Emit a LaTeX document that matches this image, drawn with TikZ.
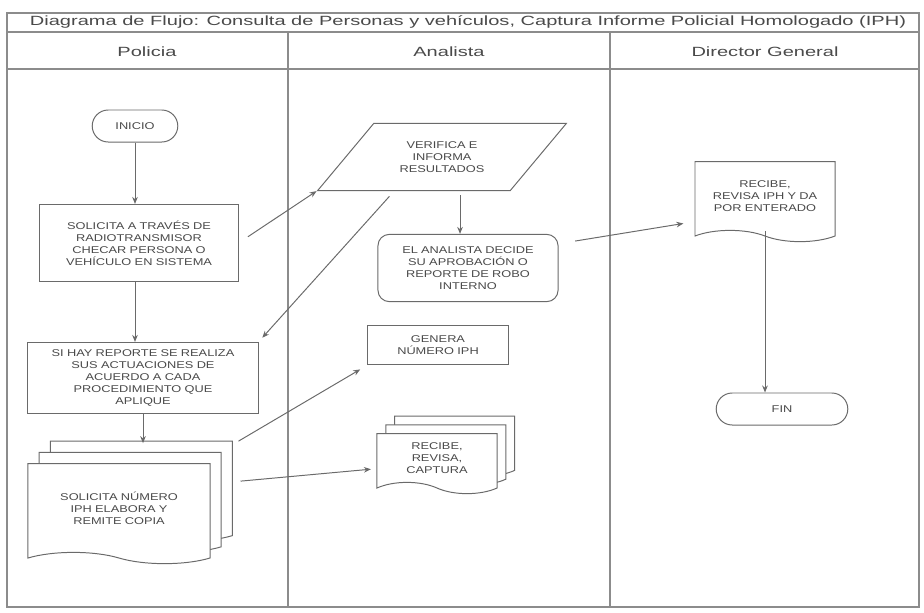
\documentclass[tikz,border=0pt]{standalone}
\usepackage{fontspec}
\setmainfont[FakeStretch=1.3]{Liberation Sans}
\newfontfamily\anchafont[FakeStretch=1.5]{Liberation Sans}
\usetikzlibrary{shapes,shapes.misc,shapes.symbols,shapes.geometric,arrows.meta,positioning,calc,shadows}
\definecolor{linea}{HTML}{6A6A6A}
\definecolor{marco}{HTML}{8C8C8C}
\definecolor{tinta}{HTML}{4A4A4A}

\tikzset{
  caja/.style={draw=linea, line width=0.7pt, fill=white, text=tinta, align=center,
    font=\fontsize{7}{8.5}\selectfont, inner sep=3pt},
  terminal/.style={caja, rounded rectangle},
  proceso/.style={caja, rectangle},
  documento/.style={caja, tape, tape bend top=none, tape bend bottom=out and in, tape bend height=8pt},
  variosdoc/.style={documento, copy shadow={shadow xshift=#1*2, shadow yshift=#1*2, draw=linea, fill=white},
    copy shadow={shadow xshift=#1, shadow yshift=#1, draw=linea, fill=white}},
  datos/.style={caja, trapezium, trapezium left angle=35, trapezium right angle=145, trapezium stretches body},
  flecha/.style={draw=linea, line width=0.7pt, -{Stealth[length=5pt,width=4pt]}},
  carril/.style={text=tinta, font=\anchafont\fontsize{9.5}{11}\selectfont},
}

\begin{document}
\begin{tikzpicture}[x=0.025cm, y=-0.025cm]
\useasboundingbox (0,0) rectangle (924,612);
% marco y carriles
\draw[marco, line width=0.8pt] (7,13) rectangle (919,607);
\draw[marco, line width=0.8pt] (7,32) -- (919,32);
\draw[marco, line width=0.8pt] (7,69) -- (919,69);
\draw[marco, line width=0.8pt] (288,32) -- (288,607);
\draw[marco, line width=0.8pt] (610,32) -- (610,607);
\node[text=tinta, font=\anchafont\fontsize{9.5}{11}\selectfont] (titulo) at (468,22)
  {Diagrama de Flujo: Consulta de Personas y vehículos, Captura Informe Policial Homologado (IPH)};
\node[carril] (policia) at (147,52) {Policia};
\node[carril] (analista) at (449,52) {Analista};
\node[carril] (director) at (765,52) {Director General};

% Policia
\node[terminal, minimum width=2.35cm, minimum height=0.8cm] (inicio) at (135,126) {INICIO};
\node[proceso, minimum width=4.95cm, minimum height=1.93cm, text width=4.6cm] (solicita) at (139,243)
  {SOLICITA A TRAVÉS DE\\RADIOTRANSMISOR\\CHECAR PERSONA O\\VEHÍCULO EN SISTEMA};
\node[proceso, minimum width=5.75cm, minimum height=1.78cm, text width=5.4cm] (actua) at (143,378)
  {SI HAY REPORTE SE REALIZA\\SUS ACTUACIONES DE\\ACUERDO A CADA\\PROCEDIMIENTO QUE\\APLIQUE};
\node[variosdoc=0.28cm, minimum width=4.55cm, minimum height=2.5cm, text width=4.1cm] (numiph) at (119,508)
  {SOLICITA NÚMERO\\IPH ELABORA Y\\REMITE COPIA};

% Analista
\node[datos, minimum width=5.9cm, minimum height=1.68cm, text width=3.2cm] (verifica) at (442,157)
  {VERIFICA E\\INFORMA\\RESULTADOS};
\node[proceso, rounded corners=8pt, minimum width=4.5cm, minimum height=1.68cm, text width=4.2cm] (decide) at (468,268)
  {EL ANALISTA DECIDE\\SU APROBACIÓN O\\REPORTE DE ROBO\\INTERNO};
\node[proceso, minimum width=3.5cm, minimum height=0.98cm, text width=3.2cm] (genera) at (438,345)
  {GENERA\\NÚMERO IPH};
\node[variosdoc=0.22cm, minimum width=3cm, minimum height=1.5cm, text width=2.7cm] (recibe) at (437,458)
  {RECIBE,\\REVISA,\\CAPTURA};

% Director General
\node[documento, minimum width=3.5cm, minimum height=2cm, text width=3.2cm] (enterado) at (765,196)
  {RECIBE,\\REVISA IPH Y DA\\POR ENTERADO};
\node[terminal, minimum width=3.5cm, minimum height=0.8cm] (fin) at (782,409) {FIN};

% conexiones
\draw[flecha] (inicio.south) -- (inicio.south |- solicita.north);
\draw[flecha] (solicita.south -| inicio.south) -- (actua.north -| inicio.south);
\draw[flecha] (actua.south) -- ([yshift=0.5cm]actua.south |- numiph.north);
\draw[flecha, shorten <=8pt] (solicita.east) -- (verifica.bottom left corner);
\draw[flecha, shorten <=5pt, shorten >=4pt] ($(verifica.bottom left corner)!0.4!(verifica.bottom right corner)$) -- (actua.north east);
\draw[flecha, shorten <=3pt] ([xshift=0.45cm]verifica.south) -- ([xshift=0.45cm]verifica.south |- decide.north);
\draw[flecha, shorten <=12pt, shorten >=8pt] (decide.15) -- (enterado.200);
\draw[flecha] (enterado.south) -- (enterado.south |- fin.north);
\draw[flecha, shorten >=6pt] ([shift={(0.7cm,0.55cm)}]numiph.north east) -- (genera.south west);
\draw[flecha, shorten >=4pt] ([shift={(0.75cm,-0.45cm)}]numiph.north east) -- (recibe.190);
\end{tikzpicture}
\end{document}
